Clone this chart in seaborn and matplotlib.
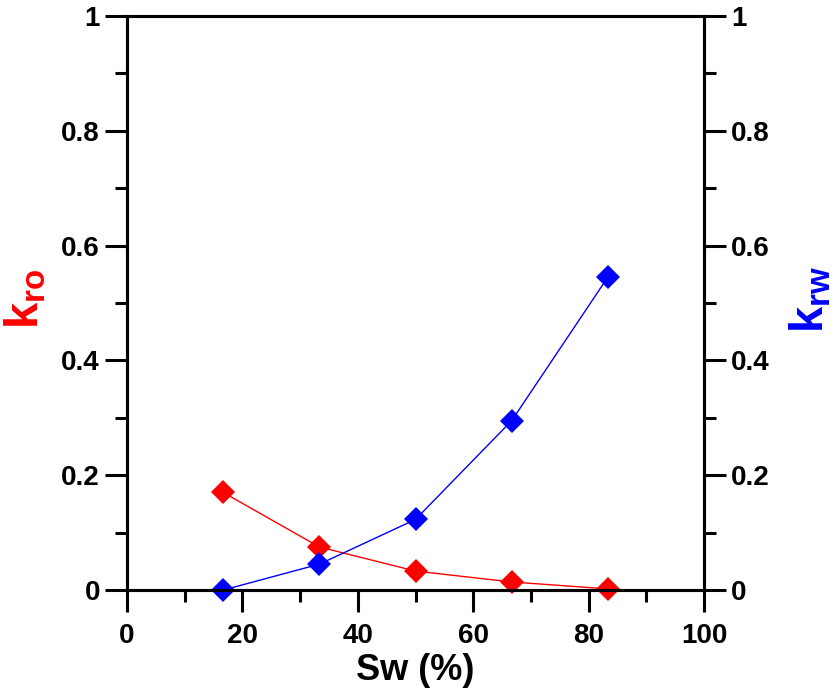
import matplotlib
matplotlib.use("Agg")
import matplotlib.pyplot as plt
import numpy as np
import pandas as pd
import seaborn as sns
from matplotlib.ticker import MultipleLocator

sw = [16.67, 33.33, 50.0, 66.67, 83.33]
kro = [0.170, 0.075, 0.033, 0.014, 0.002]
krw = [0.000, 0.045, 0.123, 0.295, 0.545]

x_ticks = [0, 20, 40, 60, 80, 100]
y_ticks = [0, 0.2, 0.4, 0.6, 0.8, 1]
y_tick_labels = ["0", "0.2", "0.4", "0.6", "0.8", "1"]

sns.set_style("ticks")
plt.rcParams["font.family"] = ["Liberation Sans", "DejaVu Sans"]
plt.rcParams["font.weight"] = "bold"
plt.rcParams["text.color"] = "black"
plt.rcParams["axes.labelcolor"] = "black"
plt.rcParams["mathtext.fontset"] = "custom"
plt.rcParams["mathtext.bf"] = "Liberation Sans:bold"
plt.rcParams["mathtext.rm"] = "Liberation Sans:bold"

df = pd.DataFrame({"sw": sw, "kro": kro, "krw": krw})

fig = plt.figure(figsize=(8.4, 6.93), dpi=100)
ax = fig.add_axes([0.1512, 0.1486, 0.6869, 0.8283])
ax2 = ax.twinx()

sns.lineplot(data=df, x="sw", y="kro", ax=ax, color="#ff0000", marker="D",
             markersize=12.2, markeredgewidth=0, linewidth=1, clip_on=False)
sns.lineplot(data=df, x="sw", y="krw", ax=ax2, color="#0000ff", marker="D",
             markersize=12.2, markeredgewidth=0, linewidth=1, clip_on=False)

for a in (ax, ax2):
    a.set_ylim(0, 1)
    a.set_xlim(0, 100)
    a.set_yticks(y_ticks)
    a.set_yticklabels(y_tick_labels)
    a.yaxis.set_minor_locator(MultipleLocator(0.1))
    for s in a.spines.values():
        s.set_linewidth(2.2)
        s.set_color("black")
        s.set_visible(True)
    a.tick_params(which="major", length=15.5, width=2.2, labelsize=20,
                  color="black", labelcolor="black")
    a.tick_params(which="minor", length=8.5, width=2.2, color="black")

ax.set_xticks(x_ticks)
ax.xaxis.set_minor_locator(MultipleLocator(10))
ax.tick_params(axis="x", which="both", direction="out", pad=8, top=False)
ax.tick_params(axis="y", which="both", direction="out", pad=4, right=False)
ax2.tick_params(axis="y", which="both", direction="out", pad=4, left=False)

ax.set_xlabel("Sw (%)", fontsize=26, fontweight="bold", labelpad=3)
ax.set_ylabel(r"$\mathbf{k_{ro}}$", fontsize=34, color="#ff0000")
ax2.set_ylabel(r"$\mathbf{k_{rw}}$", fontsize=34, color="#0000ff")
ax.yaxis.set_label_coords(-0.175, 0.507)
ax2.yaxis.set_label_coords(1.185, 0.507)
for lab in (ax.yaxis.label, ax2.yaxis.label):
    lab.set_verticalalignment("center")
    lab.set_horizontalalignment("center")

fig.savefig("out.png", dpi=100)
